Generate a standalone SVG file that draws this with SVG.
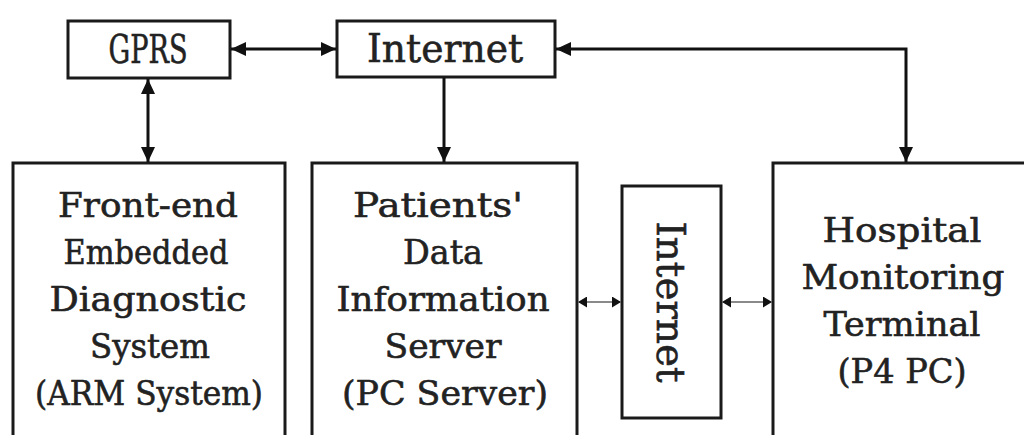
<svg xmlns="http://www.w3.org/2000/svg" width="1024" height="435" viewBox="0 0 1024 435">
  <style>
    .box { fill: #ffffff; stroke: #1a1a1a; stroke-width: 3; }
    .lbl { font-family: "DejaVu Serif", "Liberation Serif", serif; fill: #222222; stroke: #222222; stroke-width: 0.6; text-anchor: middle; }
    .top { font-size: 40px; }
    .body { font-size: 34px; }
    .link { fill: none; stroke: #111111; stroke-width: 3; }
    .thin { fill: none; stroke: #8a8a8a; stroke-width: 2; }
  </style>
  <defs>
    <marker id="head" markerUnits="userSpaceOnUse" markerWidth="15" markerHeight="14" refX="15" refY="7" orient="auto-start-reverse">
      <path d="M0,0 L15,7 L0,14 z" fill="#111111"/>
    </marker>
    <marker id="headSmall" markerUnits="userSpaceOnUse" markerWidth="9" markerHeight="11" refX="9" refY="5.5" orient="auto-start-reverse">
      <path d="M0,0 L9,5.5 L0,11 z" fill="#111111"/>
    </marker>
  </defs>
  <rect width="1024" height="435" fill="#ffffff"/>

  <g id="gprs">
    <rect class="box" x="68" y="21" width="162" height="57"/>
    <text class="lbl top" x="148" y="63" textLength="79" lengthAdjust="spacingAndGlyphs">GPRS</text>
  </g>

  <g id="internet-top">
    <rect class="box" x="337" y="21" width="218" height="56"/>
    <text class="lbl top" x="445" y="62" textLength="156" lengthAdjust="spacingAndGlyphs">Internet</text>
  </g>

  <g id="front-end">
    <rect class="box" x="13" y="163" width="272" height="290"/>
    <text class="lbl body" x="148" y="217" textLength="180" lengthAdjust="spacingAndGlyphs">Front-end</text>
    <text class="lbl body" x="146" y="264" textLength="165" lengthAdjust="spacingAndGlyphs">Embedded</text>
    <text class="lbl body" x="148" y="311" textLength="197" lengthAdjust="spacingAndGlyphs">Diagnostic</text>
    <text class="lbl body" x="150" y="358" textLength="120" lengthAdjust="spacingAndGlyphs">System</text>
    <text class="lbl body" x="149" y="405" textLength="228" lengthAdjust="spacingAndGlyphs">(ARM System)</text>
  </g>

  <g id="patients-server">
    <rect class="box" x="312" y="163" width="265" height="290"/>
    <text class="lbl body" x="438" y="217" textLength="170" lengthAdjust="spacingAndGlyphs">Patients'</text>
    <text class="lbl body" x="443" y="264" textLength="80" lengthAdjust="spacingAndGlyphs">Data</text>
    <text class="lbl body" x="443" y="311" textLength="213" lengthAdjust="spacingAndGlyphs">Information</text>
    <text class="lbl body" x="443" y="358" textLength="117" lengthAdjust="spacingAndGlyphs">Server</text>
    <text class="lbl body" x="445" y="405" textLength="206" lengthAdjust="spacingAndGlyphs">(PC Server)</text>
  </g>

  <g id="internet-mid">
    <rect class="box" x="622" y="186" width="99" height="232"/>
    <text class="lbl top" transform="translate(657,302) rotate(90)" x="0" y="0" textLength="161" lengthAdjust="spacingAndGlyphs">Internet</text>
  </g>

  <g id="hospital-terminal">
    <rect class="box" x="773" y="163" width="270" height="290"/>
    <text class="lbl body" x="902" y="242" textLength="159" lengthAdjust="spacingAndGlyphs">Hospital</text>
    <text class="lbl body" x="903" y="289" textLength="203" lengthAdjust="spacingAndGlyphs">Monitoring</text>
    <text class="lbl body" x="902" y="336" textLength="157" lengthAdjust="spacingAndGlyphs">Terminal</text>
    <text class="lbl body" x="902" y="383" textLength="129" lengthAdjust="spacingAndGlyphs">(P4 PC)</text>
  </g>

  <g id="connectors">
    <line class="link" x1="231" y1="49" x2="336" y2="49" marker-start="url(#head)" marker-end="url(#head)"/>
    <line class="link" x1="148" y1="79" x2="148" y2="162" marker-start="url(#head)" marker-end="url(#head)"/>
    <line class="link" x1="444" y1="78" x2="444" y2="162" marker-end="url(#head)"/>
    <polyline class="link" points="556,49 906,49 906,162" marker-start="url(#head)" marker-end="url(#head)"/>
    <line class="thin" x1="578" y1="302" x2="621" y2="302" marker-start="url(#headSmall)" marker-end="url(#headSmall)"/>
    <line class="thin" x1="722" y1="302" x2="772" y2="302" marker-start="url(#headSmall)" marker-end="url(#headSmall)"/>
  </g>
</svg>
